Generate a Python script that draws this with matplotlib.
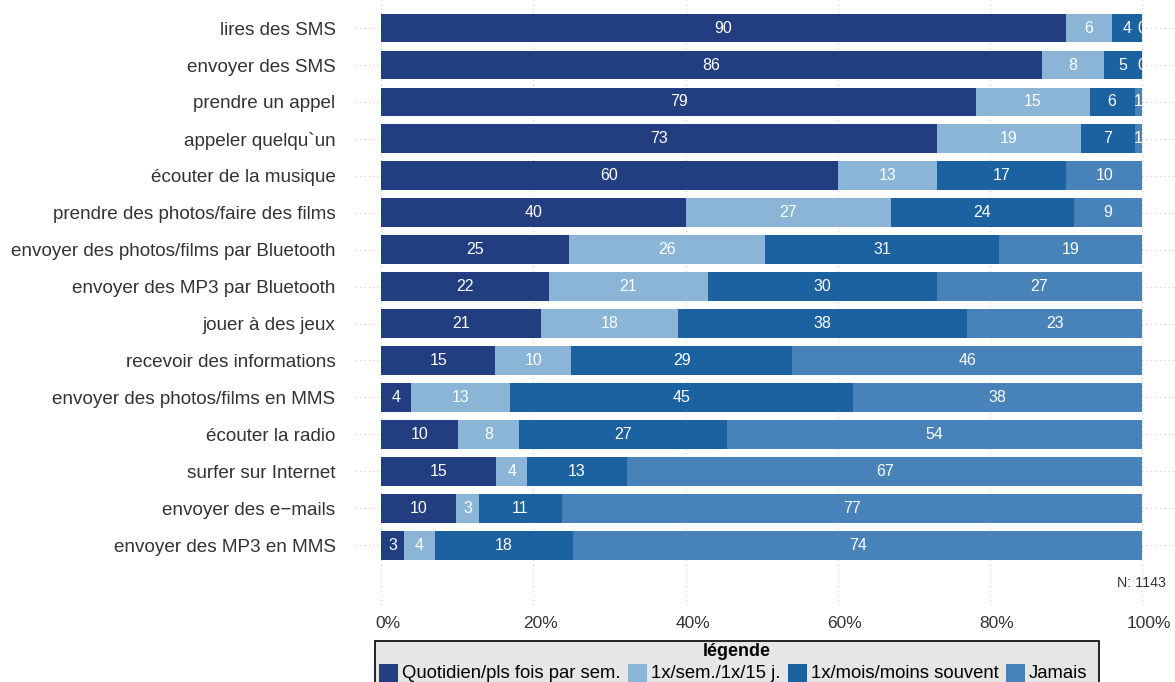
import matplotlib
matplotlib.use("Agg")
import matplotlib.pyplot as plt
import matplotlib.transforms as mtransforms
from matplotlib.patches import Rectangle
import numpy as np

categories = [
    "lires des SMS", "envoyer des SMS", "prendre un appel", "appeler quelqu`un",
    "écouter de la musique", "prendre des photos/faire des films",
    "envoyer des photos/films par Bluetooth", "envoyer des MP3 par Bluetooth",
    "jouer à des jeux", "recevoir des informations",
    "envoyer des photos/films en MMS", "écouter la radio", "surfer sur Internet",
    "envoyer des e−mails", "envoyer des MP3 en MMS",
]
quotidien = [90, 86, 79, 73, 60, 40, 25, 22, 21, 15, 4, 10, 15, 10, 3]
semaine = [6, 8, 15, 19, 13, 27, 26, 21, 18, 10, 13, 8, 4, 3, 4]
mois = [4, 5, 6, 7, 17, 24, 31, 30, 38, 29, 45, 27, 13, 11, 18]
jamais = [0, 0, 1, 1, 10, 9, 19, 27, 23, 46, 38, 54, 67, 77, 74]
series_names = ["Quotidien/pls fois par sem.", "1x/sem./1x/15 j.",
                "1x/mois/moins souvent", "Jamais"]
colors = ["#233e80", "#8bb5d7", "#1c62a0", "#4783b8"]
xticks = [0, 20, 40, 60, 80, 100]
xticklabels = ["0%", "20%", "40%", "60%", "80%", "100%"]
n_label = "N: 1143"
legend_title = "légende"

plt.rcParams["font.family"] = ["Liberation Sans", "DejaVu Sans"]
txt_color = "#333333"

W, H = 1175, 682
fig = plt.figure(figsize=(W / 100, H / 100), dpi=100)
ax = fig.add_axes([355 / W, (H - 605) / H, 1 - 355 / W, 605 / H])

data = np.array([quotidien, semaine, mois, jamais], dtype=float)
totals = data.sum(axis=0)
pct = data / totals * 100
y = np.arange(len(categories))

left = np.zeros(len(categories))
for i in range(4):
    ax.barh(y, pct[i], left=left, height=0.78, color=colors[i], zorder=2)
    for j in range(len(categories)):
        xc = left[j] + pct[i][j] / 2
        ax.text(xc, y[j], str(int(data[i][j])), ha="center", va="center",
                color="white", fontsize=11.5, zorder=3)
    left = left + pct[i]

ax.set_xlim(-3.42, 104.3)
ax.set_ylim(len(categories) - 1 + 1.62, -0.76)
ax.set_yticks(y)
ax.set_yticklabels(categories, fontsize=13.6, color=txt_color)
ax.set_xticks(xticks)
ax.set_xticklabels(xticklabels, fontsize=12.5, color=txt_color)
ax.tick_params(axis="both", length=0)
ax.tick_params(axis="y", pad=14)
ax.tick_params(axis="x", pad=8)
offset = mtransforms.ScaledTranslation(7 / 100, 0, fig.dpi_scale_trans)
for lab in ax.get_xticklabels():
    lab.set_transform(lab.get_transform() + offset)

ax.grid(True, axis="both", linestyle=(0, (1, 3)), color="#cccccc", linewidth=0.8, zorder=0)
ax.set_axisbelow(True)
for s in ax.spines.values():
    s.set_visible(False)

ax.text(1166 / W, (H - 583) / H, n_label, transform=fig.transFigure, ha="right",
        va="center", fontsize=10.3, color=txt_color)

# legend drawn manually (cut off at bottom like the reference)
def fx(px):
    return px / W

def fy(py):
    return 1 - py / H

fig.patches.append(Rectangle((fx(375), fy(700)), fx(1099) - fx(375), fy(641) - fy(700),
                             transform=fig.transFigure, facecolor="#e6e6e6",
                             edgecolor="black", linewidth=1.2, zorder=1))
fig.text(fx(737), fy(652), legend_title, ha="center", va="center",
         fontsize=13, fontweight="bold", color="black")
handle_x = [379, 628, 788, 1006]
text_x = [402, 651, 811, 1029]
for hx, tx, c, name in zip(handle_x, text_x, colors, series_names):
    fig.patches.append(Rectangle((fx(hx), fy(700)), fx(19), fy(664) - fy(700),
                                 transform=fig.transFigure, facecolor=c,
                                 edgecolor="none", zorder=2))
    fig.text(fx(tx), fy(673), name, ha="left", va="center", fontsize=13.3,
             color="black")

fig.savefig("out.png", dpi=100)
